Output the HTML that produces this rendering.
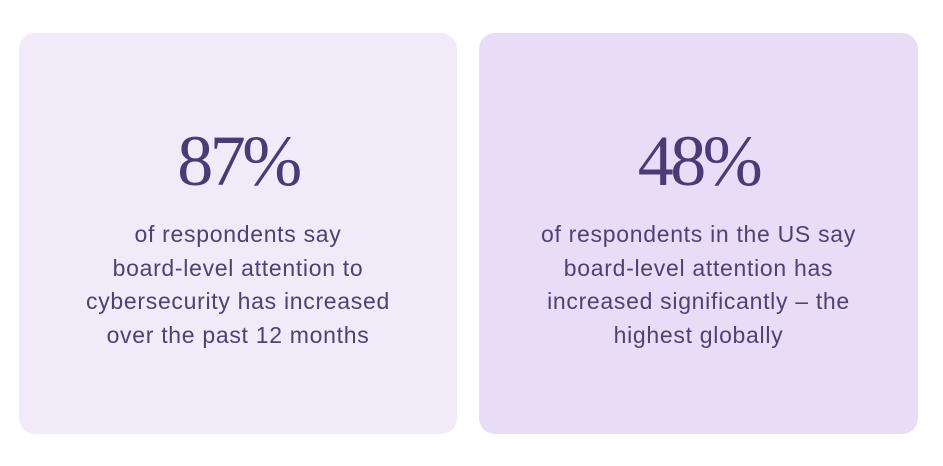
<!DOCTYPE html>
<html><head><meta charset="utf-8"><style>
body{margin:0;width:943px;height:466px;background:#fff;position:relative;overflow:hidden;font-family:"Liberation Sans",sans-serif}
.card{position:absolute;top:33px;height:401px;border-radius:16px;text-align:center;color:#4a3b76}
.num{position:absolute;left:0;right:0;top:88px;font-family:"Liberation Serif",serif;font-size:72px;line-height:80px;letter-spacing:-3.5px}
.txt{position:absolute;left:0;right:0;top:185px;font-size:23px;line-height:33.5px;letter-spacing:0.7px;color:#4d4272}
</style></head><body>
<div class="card" style="left:19px;width:438px;background:#f1eaf8">
<div class="num">87%</div>
<div class="txt">of respondents say<br>board-level attention to<br>cybersecurity has increased<br>over the past 12 months</div>
</div>
<div class="card" style="left:479px;width:439px;background:#e8dcf6">
<div class="num">48%</div>
<div class="txt">of respondents in the US say<br>board-level attention has<br>increased significantly – the<br>highest globally</div>
</div>
</body></html>
